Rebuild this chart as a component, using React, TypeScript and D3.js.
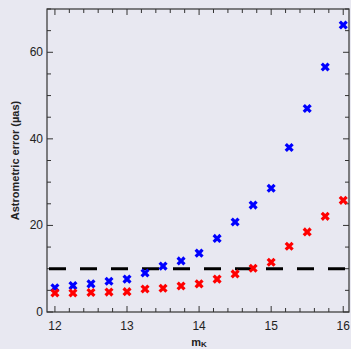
import React, { useEffect, useRef } from 'react';
import * as d3 from 'd3';

const magnitudes = [12, 12.25, 12.5, 12.75, 13, 13.25, 13.5, 13.75, 14, 14.25, 14.5, 14.75, 15, 15.25, 15.5, 15.75, 16];
const blueErrors = [5.6, 6.1, 6.5, 7.1, 7.6, 9.0, 10.6, 11.8, 13.6, 17.0, 20.8, 24.7, 28.6, 38.0, 47.0, 56.6, 66.3];
const redErrors = [4.4, 4.4, 4.5, 4.6, 4.7, 5.3, 5.5, 6.0, 6.5, 7.6, 8.8, 10.1, 11.5, 15.2, 18.5, 22.1, 25.8];
const thresholdValue = 10;
const xTickLabels = [12, 13, 14, 15, 16];
const yTickLabels = [0, 20, 40, 60];

const App = () => {
  const ref = useRef<SVGSVGElement>(null);

  useEffect(() => {
    const width = 351;
    const height = 349;
    const m = { left: 47, right: 2, top: 9, bottom: 37 };
    const svg = d3.select(ref.current);
    svg.selectAll('*').remove();
    svg.attr('width', width).attr('height', height);

    svg.append('rect').attr('width', width).attr('height', height).attr('fill', '#e8e8f1');

    const x = d3.scaleLinear().domain([11.89, 16.08]).range([m.left, width - m.right]);
    const y = d3.scaleLinear().domain([0, 70]).range([height - m.bottom, m.top]);
    const font = 'Liberation Sans, Arial, sans-serif';

    const frame = svg.append('g');
    frame.append('rect')
      .attr('x', m.left).attr('y', m.top)
      .attr('width', width - m.left - m.right).attr('height', height - m.top - m.bottom)
      .attr('fill', 'none').attr('stroke', '#333').attr('stroke-width', 1.2);

    const xTicks = d3.range(12, 16.01, 0.2);
    const yTicks = d3.range(0, 70.1, 5);
    const x0 = m.left, x1 = width - m.right, y0 = height - m.bottom, y1 = m.top;

    xTicks.forEach(t => {
      const major = Math.abs(t - Math.round(t)) < 1e-6;
      const len = major ? 6 : 4;
      frame.append('line').attr('x1', x(t)).attr('x2', x(t)).attr('y1', y0).attr('y2', y0 - len)
        .attr('stroke', '#333');
      frame.append('line').attr('x1', x(t)).attr('x2', x(t)).attr('y1', y1).attr('y2', y1 + len)
        .attr('stroke', '#333');
    });
    yTicks.forEach(t => {
      const major = t % 20 === 0;
      const len = major ? 6 : 4;
      frame.append('line').attr('x1', x0).attr('x2', x0 + len).attr('y1', y(t)).attr('y2', y(t))
        .attr('stroke', '#333');
      frame.append('line').attr('x1', x1).attr('x2', x1 - len).attr('y1', y(t)).attr('y2', y(t))
        .attr('stroke', '#333');
    });

    svg.selectAll('.xl').data(xTickLabels).enter().append('text')
      .attr('x', d => x(d)).attr('y', y0 + 18)
      .attr('text-anchor', 'middle').attr('font-family', font).attr('font-size', 12)
      .attr('fill', '#222').text(d => d);
    svg.selectAll('.yl').data(yTickLabels).enter().append('text')
      .attr('x', x0 - 4).attr('y', d => y(d) + 4)
      .attr('text-anchor', 'end').attr('font-family', font).attr('font-size', 12)
      .attr('fill', '#222').text(d => d);

    const xl = svg.append('text').attr('x', x(14)).attr('y', 346)
      .attr('text-anchor', 'middle').attr('font-family', font).attr('font-size', 11)
      .attr('font-weight', 'bold').attr('fill', '#222');
    xl.append('tspan').text('m');
    xl.append('tspan').attr('font-size', 8).attr('dy', 1).text('K');

    svg.append('text')
      .attr('transform', `translate(19,${y(35)}) rotate(-90)`)
      .attr('text-anchor', 'middle').attr('font-family', font).attr('font-size', 11)
      .attr('font-weight', 'bold').attr('fill', '#222')
      .text('Astrometric error (µas)');

    svg.append('line')
      .attr('x1', x0).attr('x2', x1).attr('y1', y(thresholdValue)).attr('y2', y(thresholdValue))
      .attr('stroke', '#000').attr('stroke-width', 3).attr('stroke-dasharray', '17,14')
      .attr('stroke-dashoffset', -2);

    // bold filled X markers
    const cross = d3.symbol().type(d3.symbolCross).size(52);
    const drawSeries = (vals: number[], color: string) => {
      svg.append('g').selectAll('path').data(vals).enter().append('path')
        .attr('d', cross())
        .attr('transform', (d, i) => `translate(${x(magnitudes[i])},${y(d)}) rotate(45)`)
        .attr('fill', color);
    };
    drawSeries(blueErrors, '#0000ff');
    drawSeries(redErrors, '#ff0000');
  }, []);

  return <svg ref={ref} style={{ position: 'absolute', left: 0, top: 0 }}></svg>;
};

export default App;
